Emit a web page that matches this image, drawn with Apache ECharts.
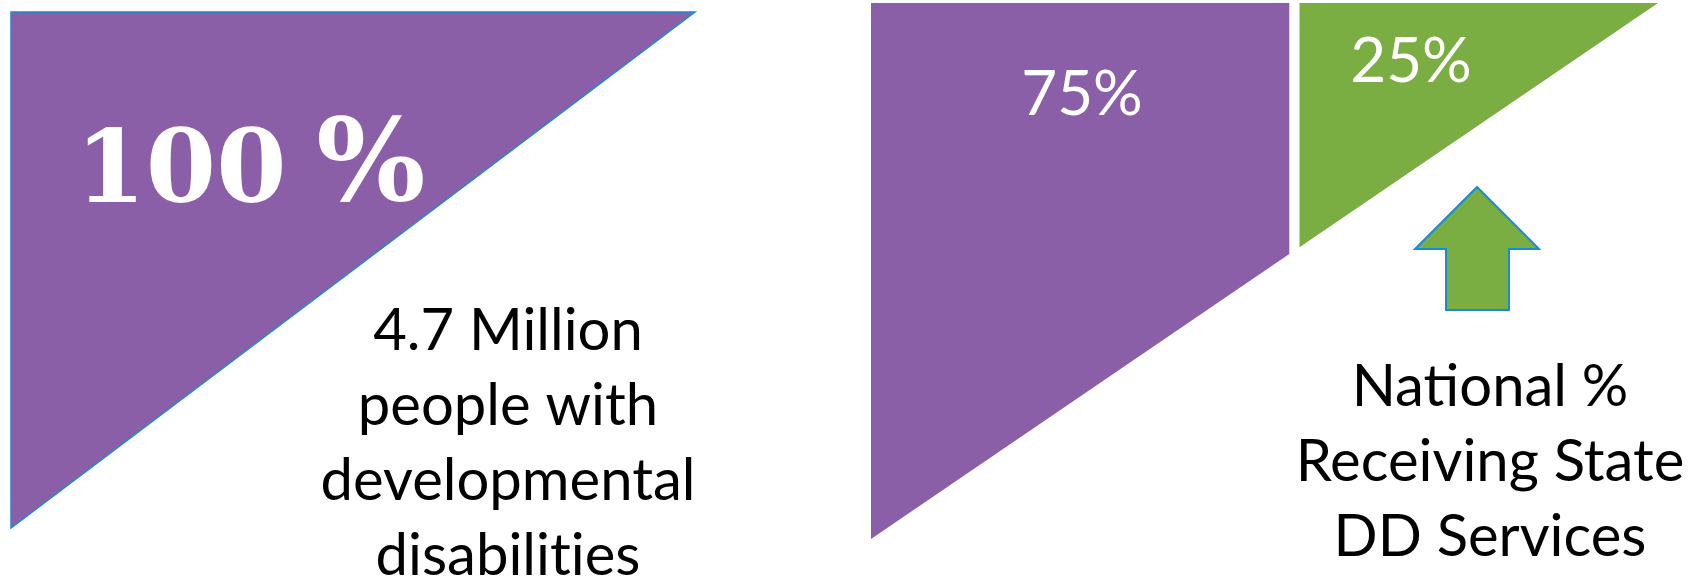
<!DOCTYPE html>
<html>
<head>
<meta charset="utf-8">
<script src="https://cdn.jsdelivr.net/npm/echarts@6/dist/echarts.min.js"></script>
<style>
  html, body { margin: 0; padding: 0; background: #ffffff; }
  #main { width: 1701px; height: 584px; }
</style>
</head>
<body>
<div id="main"></div>
<script>
// values shown on the slide
var totalShare = [100];
var totalLabel = ['100%'];
var splitShares = [75, 25];
var splitLabels = ['75%', '25%'];
var leftCaption = ['4.7 Million', 'people with', 'developmental', 'disabilities'];
var rightCaption = ['National %', 'Receiving State', 'DD Services'];

var purple = '#8b5fa7';
var green = '#7aad42';
var blue = '#1b8ad6';

// where the right triangle is cut (in % of its width), plus the white gap
var splitAt = 53.8;
var gap = 1.3;

// Lato would join "ti" into a ligature, a zero-width non-joiner keeps them apart
function noLig(s) { return s.replace(/ti/g, 't\u200Ci'); }

// big "100%": number and percent sign get different sizes
var bigNum = totalLabel[0].replace('%', '');
var bigPct = '%';

var chart = echarts.init(document.getElementById('main'));

// triangle with legs = value, hypotenuse from (value,0) to (0,value)
function leftTriangle(params, api) {
    var v = api.value(0);
    var pts = [api.coord([0, 0]), api.coord([v, 0]), api.coord([0, v])];
    return {
        type: 'polygon',
        shape: { points: pts },
        style: { fill: purple, stroke: blue, lineWidth: 1.5 }
    };
}

// right triangle cut into two pieces, hypotenuse y = 100 - x
function splitTriangle(params, api) {
    var i = params.dataIndex;
    var pts;
    if (i === 0) {
        var x1 = splitAt - gap / 2;
        pts = [[0, 0], [x1, 0], [x1, 100 - x1], [0, 100]];
    } else {
        var x0 = splitAt + gap / 2;
        pts = [[x0, 0], [100, 0], [x0, 100 - x0]];
    }
    return {
        type: 'polygon',
        shape: { points: pts.map(function (p) { return api.coord(p); }) },
        style: { fill: i === 0 ? purple : green }
    };
}

var option = {
    animation: false,
    grid: [
        { left: 11, top: 12, width: 684, height: 516 },
        { left: 871, top: 3, width: 787, height: 536 }
    ],
    xAxis: [
        { gridIndex: 0, type: 'value', min: 0, max: 100, show: false },
        { gridIndex: 1, type: 'value', min: 0, max: 100, show: false }
    ],
    yAxis: [
        { gridIndex: 0, type: 'value', min: 0, max: 100, inverse: true, show: false },
        { gridIndex: 1, type: 'value', min: 0, max: 100, inverse: true, show: false }
    ],
    series: [
        {
            type: 'custom',
            xAxisIndex: 0,
            yAxisIndex: 0,
            renderItem: leftTriangle,
            data: totalShare.map(function (v) { return [v]; })
        },
        {
            type: 'custom',
            xAxisIndex: 1,
            yAxisIndex: 1,
            renderItem: splitTriangle,
            data: splitShares.map(function (v) { return [v]; })
        }
    ],
    graphic: [
        {
            type: 'text', x: 181, y: 176, z: 100,
            style: {
                text: bigNum, fill: '#fff', align: 'center', verticalAlign: 'middle',
                font: 'bold 101px "DejaVu Serif"'
            }
        },
        {
            type: 'text', x: 371, y: 170, z: 100,
            style: {
                text: bigPct, fill: '#fff', align: 'center', verticalAlign: 'middle',
                font: 'bold 115px "DejaVu Serif"'
            }
        },
        {
            type: 'text', x: 1082, y: 95, z: 100,
            style: {
                text: splitLabels[0], fill: '#fff', align: 'center', verticalAlign: 'middle',
                font: '62px Lato'
            }
        },
        {
            type: 'text', x: 1411, y: 62, z: 100,
            style: {
                text: splitLabels[1], fill: '#fff', align: 'center', verticalAlign: 'middle',
                font: '62px Lato'
            }
        },
        {
            type: 'polygon', z: 100,
            shape: { points: [[1477, 187], [1539, 249], [1509, 249], [1509, 310], [1446, 310], [1446, 249], [1415, 249]] },
            style: { fill: green, stroke: blue, lineWidth: 2 }
        },
        {
            type: 'text', x: 508, y: 294, z: 100,
            style: {
                text: leftCaption.map(noLig).join('\n'), fill: '#000', align: 'center',
                font: '58px Lato', lineHeight: 75
            }
        },
        {
            type: 'text', x: 1490, y: 350, z: 100,
            style: {
                text: rightCaption.join('\n'), fill: '#000', align: 'center',
                font: '58px Lato', lineHeight: 75
            }
        }
    ]
};

chart.setOption(option);
</script>
</body>
</html>
